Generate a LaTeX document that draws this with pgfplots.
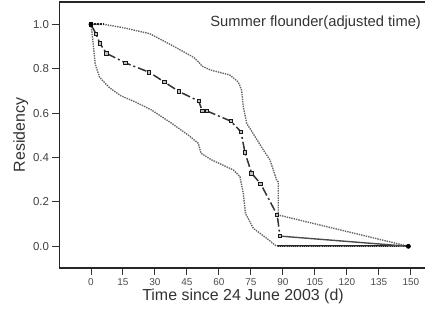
\documentclass[border=0pt]{standalone}
\usepackage{pgfplots}
\pgfplotsset{compat=1.18}
\usepackage{fontspec}
\setmainfont{Liberation Sans}
\begin{document}
\begin{tikzpicture}
\begin{axis}[
  scale only axis,
  width=367bp, height=265.7bp,
  xmin=-14.77, xmax=157.3,
  ymin=-0.0964, ymax=1.1005,
  axis line style={line width=1.8pt, black!85},
  xtick={0,15,...,150},
  ytick={0,0.2,...,1.0},
  tick align=outside,
  major tick length=7bp,
  tick style={line width=1pt, black!80},
  xtick pos=bottom, ytick pos=left,
  /pgf/number format/assume math mode=true,
  yticklabel style={/pgf/number format/fixed,/pgf/number format/fixed zerofill,/pgf/number format/precision=1, font=\fontsize{11.5}{12}\selectfont, text=black!75},
  xticklabel style={font=\fontsize{10}{11}\selectfont, text=black!70},
  xlabel={Time since 24 June 2003 (d)},
  ylabel={Residency},
  xlabel style={font=\fontsize{16}{17}\selectfont, text=black!80, yshift=3bp},
  ylabel style={font=\fontsize{16}{17}\selectfont, text=black!80, yshift=-2bp},
  clip=false,
]
% upper confidence bound
\addplot[densely dotted, line width=1.4pt, black!60] coordinates {
(0,1) (6,1) (15,0.985) (27.5,0.958) (38,0.905) (48,0.852) (50.5,0.83) (52,0.812)
(56,0.794) (65,0.772) (69,0.741) (70.6,0.704) (71.4,0.629) (73,0.554) (76.9,0.494)
(80.8,0.434) (83.9,0.389) (87,0.299) (87.8,0.29) (87.8,0.141) (148.8,0)};
% lower confidence bound
\addplot[densely dotted, line width=1.4pt, black!60] coordinates {
(0,1) (0.4,0.97) (1.1,0.905) (2.0,0.82) (4.0,0.762) (6.6,0.735) (9,0.712) (14,0.678)
(20.6,0.651) (28.4,0.614) (37.8,0.554) (45.6,0.501) (50.3,0.464) (51.6,0.419)
(56.6,0.389) (62,0.365) (66.7,0.344) (69.8,0.314) (71.4,0.239) (72.4,0.149)
(76.1,0.081) (82.4,0.036) (87,0)};
% zero line
\addplot[line width=2pt, black!85] coordinates {(87,0) (148.8,0)};
\addplot[line width=1.2pt, densely dotted, black!45] coordinates {(87,0) (148.8,0)};
% initial plateau
\addplot[line width=2pt, black!85, densely dotted] coordinates {(0,1) (6,1)};
% main estimate
\addplot[line width=1.5pt, black!80, dash pattern=on 9pt off 3pt on 2pt off 3pt,
  mark=square*, mark options={solid, fill=black!25, draw=black!90, line width=0.9pt}, mark size=1.7pt] coordinates {
(0,1) (2.3,0.957) (4.2,0.913) (7.3,0.869) (16.2,0.826) (27.3,0.784) (34.4,0.740)
(41.3,0.697) (50.5,0.654) (52.2,0.609) (54.5,0.609) (65.5,0.564) (70.3,0.516)
(72.2,0.422) (75.3,0.329) (79.5,0.282) (87.3,0.141) (88.6,0.046)};
\addplot[line width=1.4pt, black!70] coordinates {(88.6,0.046) (148.8,0)};
\addplot[only marks, mark=*, mark size=2.2pt, black] coordinates {(0,1) (148.8,0)};
\node[anchor=base west, font=\fontsize{14.8}{16}\selectfont, text=black!80] at (axis cs:54.3,0.988) {Summer flounder(adjusted time)};
\end{axis}
\pgfresetboundingbox
\path[use as bounding box] (-59.5bp,-46.3bp) rectangle (365.5bp,267.7bp);
\end{tikzpicture}
\end{document}
